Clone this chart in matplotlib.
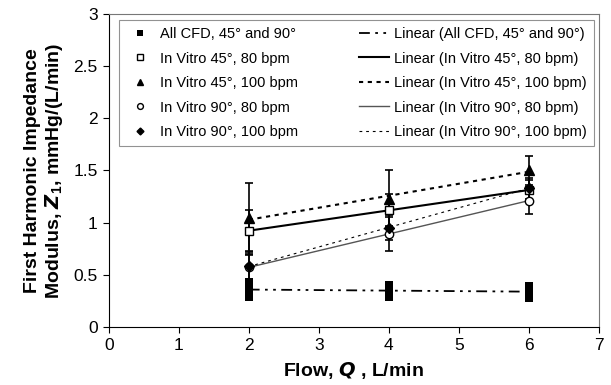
import numpy as np
import matplotlib
matplotlib.use("Agg")
import matplotlib.pyplot as plt

plt.rcParams['font.family'] = ['Liberation Sans', 'DejaVu Sans']
plt.rcParams['mathtext.fontset'] = 'custom'
plt.rcParams['mathtext.rm'] = 'Liberation Sans'
plt.rcParams['mathtext.it'] = 'Liberation Sans:italic'
plt.rcParams['mathtext.bf'] = 'Liberation Sans:bold'

# data
flow = [2, 4, 6]
cfd_flow = [2, 2, 2, 2, 4, 4, 4, 4, 6, 6, 6, 6]
cfd_z1 = [0.29, 0.33, 0.38, 0.43, 0.29, 0.33, 0.37, 0.40, 0.28, 0.32, 0.36, 0.39]
v45_80 = [0.92, 1.12, 1.31]
v45_80_err = [0.20, 0.15, 0.10]
v45_100 = [1.04, 1.23, 1.50]
v45_100_err = [0.34, 0.27, 0.14]
v90_80 = [0.57, 0.89, 1.21]
v90_80_err = [0.12, 0.16, 0.13]
v90_100 = [0.58, 0.95, 1.33]
v90_100_err = [0.15, 0.12, 0.10]

names = ["All CFD, 45° and 90°", "In Vitro 45°, 80 bpm", "In Vitro 45°, 100 bpm",
         "In Vitro 90°, 80 bpm", "In Vitro 90°, 100 bpm"]

fig = plt.figure(figsize=(6.11, 3.85), dpi=100)
ax = fig.add_axes([0.178, 0.151, 0.802, 0.813])

eb = dict(ecolor='black', elinewidth=1.2, capsize=3, capthick=1.2, linestyle='none')

h_pts = []
h_pts.append(ax.plot(cfd_flow, cfd_z1, 's', color='black', ms=6, mew=0)[0])
h_pts.append(ax.errorbar(flow, v45_80, yerr=v45_80_err, marker='s', mfc='white', mec='black', ms=6, **eb)[0])
h_pts.append(ax.errorbar(flow, v45_100, yerr=v45_100_err, marker='^', mfc='black', mec='black', ms=7, **eb)[0])
h_pts.append(ax.errorbar(flow, v90_80, yerr=v90_80_err, marker='o', mfc='white', mec='black', ms=6, **eb)[0])
h_pts.append(ax.errorbar(flow, v90_100, yerr=v90_100_err, marker='D', mfc='black', mec='black', ms=5, **eb)[0])

# linear trend lines
xs = np.array([2, 6])
styles = [dict(color='black', lw=1.3, dashes=(6, 3, 1.5, 3, 1.5, 3)),
          dict(color='black', lw=1.5, ls='-'),
          dict(color='black', lw=1.5, dashes=(2, 2.2)),
          dict(color='#555555', lw=1.0, ls='-'),
          dict(color='black', lw=0.8, dashes=(2.5, 3.5))]
series = [(cfd_flow, cfd_z1), (flow, v45_80), (flow, v45_100), (flow, v90_80), (flow, v90_100)]
h_lin = []
for (x, y), st in zip(series, styles):
    k, b = np.polyfit(x, y, 1)
    h_lin.append(ax.plot(xs, k * xs + b, **st)[0])

ax.set_xlim(0, 7)
ax.set_ylim(0, 3)
ax.set_xticks(range(8))
ax.set_yticks([0, 0.5, 1, 1.5, 2, 2.5, 3])
ax.set_yticklabels(['0', '0.5', '1', '1.5', '2', '2.5', '3'])
ax.tick_params(labelsize=12.5, direction='out', length=4, width=0.8, pad=4)
for s in ax.spines.values():
    s.set_linewidth(0.8)
ax.spines['top'].set_color('#777777')
ax.spines['right'].set_color('#777777')

ax.set_xlabel(r"Flow, $\mathbfit{Q}$ , L/min", fontsize=14, fontweight='bold', labelpad=5)
ax.set_ylabel("First Harmonic Impedance\nModulus, $\\mathbfit{Z}_{\\mathbf{1}}$, mmHg/(L/min)",
              fontsize=14, fontweight='bold', labelpad=6, linespacing=1.1)

labels = names + ["Linear (" + n + ")" for n in names]
leg = ax.legend(h_pts + h_lin, labels, ncol=2, loc='upper left', bbox_to_anchor=(0.02, 0.981),
                borderaxespad=0, fontsize=10.5, frameon=True, fancybox=False, handlelength=2.0,
                markerscale=0.7, labelspacing=0.72, columnspacing=4.2, borderpad=0.5,
                handletextpad=0.35)
leg.get_frame().set_edgecolor('#777777')
leg.get_frame().set_linewidth(0.8)

fig.savefig("out.png", dpi=100)
